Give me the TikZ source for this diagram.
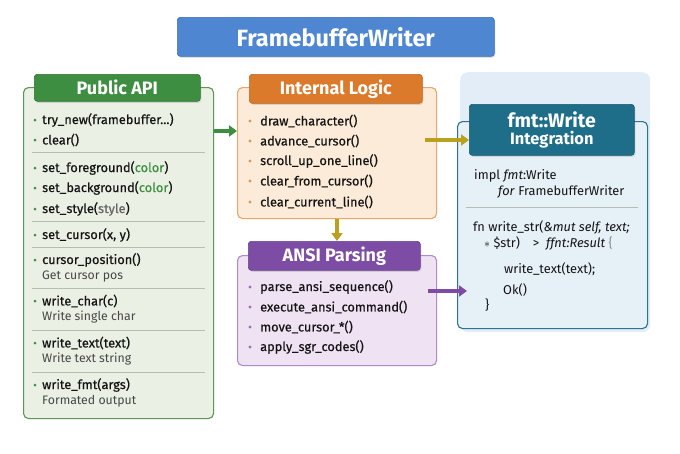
\documentclass[tikz,border=0pt]{standalone}
\usepackage{fontspec}
\setmainfont{Fira Sans}
\setsansfont{Fira Sans}
\newfontfamily\medfont{Fira Sans}[FakeBold=0.5]
\usetikzlibrary{arrows.meta,positioning,shadows}

\definecolor{titlefill}{HTML}{4F86D1}
\definecolor{titleline}{HTML}{3A6DB5}
\definecolor{pubfill}{HTML}{EAF0E4}
\definecolor{publine}{HTML}{5A9555}
\definecolor{pubdark}{HTML}{3E8E41}
\definecolor{logfill}{HTML}{FDEBD9}
\definecolor{logline}{HTML}{E9A56A}
\definecolor{logdark}{HTML}{DC7A2C}
\definecolor{ansifill}{HTML}{EFE2F3}
\definecolor{ansiline}{HTML}{B08ACB}
\definecolor{ansidark}{HTML}{7D4DA5}
\definecolor{fmtpanel}{HTML}{E2EDF8}
\definecolor{fmtfill}{HTML}{E6F0F7}
\definecolor{fmtline}{HTML}{2F7391}
\definecolor{fmtdark}{HTML}{1F6E89}
\definecolor{gold}{HTML}{B9A11E}
\definecolor{sepgray}{HTML}{B8BDB4}
\definecolor{txt}{HTML}{141414}

\begin{document}
\begin{tikzpicture}[x=1pt,y=-1pt,>=Triangle,font=\medfont\fontsize{12.8}{14}\selectfont,
panel/.style={draw,rounded corners=5pt,line width=1.1pt,anchor=north west,inner sep=0pt},
tab/.style={draw,rounded corners=3pt,line width=.6pt,text=white,anchor=north west,inner sep=0pt,align=center,font=\sffamily\bfseries\fontsize{18}{20}\selectfont,drop shadow={opacity=.25,shadow xshift=1pt,shadow yshift=-1.5pt}},
item/.style={anchor=west,inner sep=0pt,text=txt},
note/.style={anchor=west,inner sep=0pt,text=black!72,font=\sffamily\fontsize{12.3}{14}\selectfont},
sep/.style={sepgray,line width=.7pt},
line/.style={line width=3.2pt,arrows={-Triangle[length=8pt,width=11pt]}}]
\useasboundingbox[fill=white] (0,0) rectangle (680,453);

\node[tab,fill=titlefill,draw=titleline,minimum width=317,minimum height=39,font=\sffamily\bfseries\fontsize{23.5}{25}\selectfont] (title) at (177,17) {FramebufferWriter};

\node[panel,fill=pubfill,draw=publine,minimum width=190,minimum height=331] (pub) at (23,87) {};
\node[tab,fill=pubdark,draw=pubdark!80!black,minimum width=166,minimum height=27] (pubhead) at (34,74) {Public API};
\foreach \y/\t [count=\i] in {120/{try\_new(framebuffer...)},140/{clear()},168/{set\_foreground(\textcolor{pubdark}{color})},188/{set\_background(\textcolor{pubdark}{color})},209/{set\_style(\textcolor{black!60}{style})},235/{set\_cursor(x, y)},260/{cursor\_position()},301/{write\_char(c)},343/{write\_text(text)},385/{write\_fmt(args)}}{
  \fill[pubdark] (35,\y) circle (1.5);
  \node[item] (pub\i) at (42,\y) {\t};
}
\foreach \y/\t [count=\i] in {276/{Get cursor pos},317/{Write single char},359/{Write text string},401/{Formated output}}
  \node[note] (pubnote\i) at (42,\y) {\t};
\foreach \y in {152,221,247,288,330,372}
  \draw[sep] (32,\y) -- (205,\y);

\node[panel,fill=logfill,draw=logline,minimum width=199,minimum height=131] (logic) at (237,87) {};
\node[tab,fill=logdark,draw=logdark!85!black,minimum width=173,minimum height=29] (loghead) at (249,74) {Internal Logic};
\foreach \y/\t [count=\i] in {121/{draw\_character()},141/{advance\_cursor()},161/{scroll\_up\_one\_line()},181/{clear\_from\_cursor()},202/{clear\_current\_line()}}{
  \fill[logdark!80] (250,\y) circle (1.6);
  \node[item] (log\i) at (260,\y) {\t};
}

\node[panel,fill=ansifill,draw=ansiline,minimum width=199,minimum height=110] (ansi) at (237,255) {};
\node[tab,fill=ansidark,draw=ansidark!85!black,minimum width=172,minimum height=29] (ansihead) at (248,241) {ANSI Parsing};
\foreach \y/\t [count=\i] in {287/{parse\_ansi\_sequence()},307/{execute\_ansi\_command()},327/{move\_cursor\_*()},347/{apply\_sgr\_codes()}}{
  \fill[ansidark!80] (250,\y) circle (1.6);
  \node[item] (ansi\i) at (260,\y) {\t};
}

\node[anchor=north west,fill=fmtpanel,rounded corners=8pt,minimum width=190,minimum height=260,inner sep=0pt] (fmtbg) at (460,72) {};
\node[panel,fill=fmtfill,draw=fmtline,minimum width=190,minimum height=207] (fmt) at (457,121) {};
\node[tab,fill=fmtdark,draw=fmtdark!80!black,minimum width=165,minimum height=51,font=\sffamily\bfseries\fontsize{16.4}{18}\selectfont] (fmthead) at (469,104) {{\fontsize{19.5}{21}\selectfont fmt::Write}\\[-1pt]Integration};
\begin{scope}[every node/.style={anchor=west,inner sep=0pt,text=txt,font=\sffamily\fontsize{12.8}{14}\selectfont}]
\node (impl) at (474,176) {impl \textit{fmt}:Write};
\node (implfor) at (498,192) {\textit{for} FramebufferWriter};
\node (fnsig) at (473,227) {fn write\_str(\textit{\&mut self, text;}};
\node (fnret) at (484,243) {$\ast$ \$str)\quad>\ \ \textit{ffnt:Result} \textcolor{black!45}{\{}};
\node (fnbody) at (504,269) {write\_text(text);};
\node (fnok) at (503,290) {Ok()};
\node (fnend) at (485,305) {\}};
\end{scope}
\draw[sep] (466,207) -- (638,207);

\draw[line,pubdark] (pub.east |- 0,131) -- (logic.west |- 0,131);
\draw[line,gold] ([xshift=-12]logic.east |- 0,140) -- (fmthead.west |- 0,140);
\draw[line,gold] (logic.south -| 337,0) -- (ansihead.north -| 337,0);
\draw[line,ansidark] ([xshift=-9]ansi.east |- 0,291) -- ([xshift=10]fmt.west |- 0,291);
\end{tikzpicture}
\end{document}
